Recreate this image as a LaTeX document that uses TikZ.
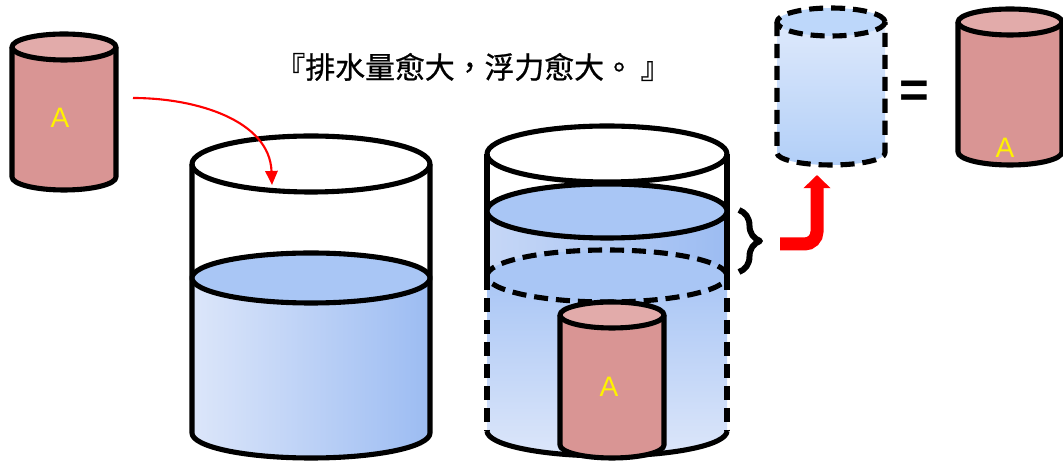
\documentclass[tikz,border=0pt]{standalone}
\usepackage{fontspec}
\setmainfont{Liberation Sans}
\newfontfamily\cjk[FakeBold=0.8]{Noto Sans CJK TC}
\usepackage{tikz}
\usetikzlibrary{arrows.meta,decorations.pathreplacing}
\definecolor{jarbody}{HTML}{D99594}
\definecolor{jartop}{HTML}{E2ABAA}
\definecolor{waterpale}{HTML}{DCE6FA}
\definecolor{waterdeep}{HTML}{9CBCF2}
\definecolor{watertop}{HTML}{A9C6F5}
\definecolor{waterband}{HTML}{C6D7F6}
\definecolor{ghostpale}{HTML}{DEE9FB}
\definecolor{ghostdeep}{HTML}{B2CFF8}
\definecolor{ghosttop}{HTML}{BDD7FA}
\tikzset{
  rim/.style={
    line width=2.9pt,
    draw=black,
    line join=round
  },
  rimdash/.style={
    rim,
    dash pattern=on 8pt off 4.5pt
  },
  jarlabel/.style={
    text=yellow,
    font=\fontsize{16}{16}\selectfont
  },
  droparrow/.style={
    -{Triangle[length=8pt,width=7pt]},
    line width=1.2pt,
    draw=red
  },
  liftarrow/.style={
    -{Triangle[length=7.5pt,width=15pt]},
    line width=7.4pt,
    draw=red,
    rounded corners=7pt
  },
  redjar/.pic={
    \fill[jarbody] (-52,130) -- (-52,0) arc[start angle=180,end angle=360,x radius=52,y radius=13] -- (52,130) -- cycle;
    \draw[rim] (-52,130) -- (-52,0) arc[start angle=180,end angle=360,x radius=52,y radius=13] -- (52,130);
    \draw[rim,fill=jartop] (0,130) ellipse[x radius=52,y radius=13];
  }
}
\begin{document}
\begin{tikzpicture}[x=0.02cm,y=0.02cm]
  \useasboundingbox (0,0) rectangle (1063,463);

  % loose block
  \pic at (64,286) {redjar};
  \node[jarlabel] (blocka) at (60,345) {A};

  \node[font=\cjk\fontsize{17}{17}\selectfont] (motto) at (473,396) {『排水量愈大，浮力愈大。 』};

  % first beaker
  \shade[left color=waterpale,right color=waterdeep] (192,185) -- (192,30) arc[start angle=180,end angle=360,x radius=119,y radius=25] -- (430,185) -- cycle;
  \draw[rim] (192,299) -- (192,30) arc[start angle=180,end angle=360,x radius=119,y radius=25] -- (430,299);
  \draw[rim,fill=watertop] (311,185) ellipse[x radius=119,y radius=25];
  \draw[rim] (311,299) ellipse[x radius=119,y radius=28];

  % second beaker
  \shade[top color=watertop,bottom color=waterpale] (487,187) -- (487,32) arc[start angle=180,end angle=360,x radius=120,y radius=25] -- (727,187) -- cycle;
  \shade[left color=waterband,right color=waterdeep] (487,252) -- (487,187) arc[start angle=180,end angle=360,x radius=120,y radius=26] -- (727,252) -- cycle;
  \draw[rimdash,fill=watertop] (607,187) ellipse[x radius=120,y radius=26];
  \draw[rim] (487,309) -- (487,187);
  \draw[rim] (727,309) -- (727,187);
  \draw[rimdash] (487,187) -- (487,32);
  \draw[rimdash] (727,187) -- (727,32);
  \draw[rim] (487,32) arc[start angle=180,end angle=360,x radius=120,y radius=25];
  \draw[rim] (607,309) ellipse[x radius=120,y radius=28];
  \draw[rim,fill=watertop] (607,252) ellipse[x radius=120,y radius=27];
  \pic at (612,18) {redjar};
  \node[jarlabel] (blockb) at (609,76) {A};

  \draw[rim,line width=3.4pt,decorate,decoration={brace,amplitude=0.42cm}] (739,253) -- (739,191);

  % displaced water
  \shade[top color=ghostpale,bottom color=ghostdeep] (777,441) -- (777,310) arc[start angle=180,end angle=360,x radius=54,y radius=12] -- (885,441) -- cycle;
  \draw[rimdash] (777,441) -- (777,310) arc[start angle=180,end angle=360,x radius=54,y radius=12] -- (885,441);
  \draw[rimdash,fill=ghosttop] (831,441) ellipse[x radius=54,y radius=14];

  \node[font=\bfseries\fontsize{29}{29}\selectfont] (equal) at (914,369) {=};

  \pic at (1010,311) {redjar};
  \node[jarlabel] (blockc) at (1005,315) {A};

  \coordinate (dropstart) at (133,365);
  \coordinate (dropend) at (272,278);
  \draw[droparrow] (dropstart) to[out=0,in=92] (dropend);

  \coordinate (liftstart) at (780,219);
  \coordinate (liftend) at (817,288);
  \draw[liftarrow] (liftstart) -| (liftend);
\end{tikzpicture}
\end{document}
